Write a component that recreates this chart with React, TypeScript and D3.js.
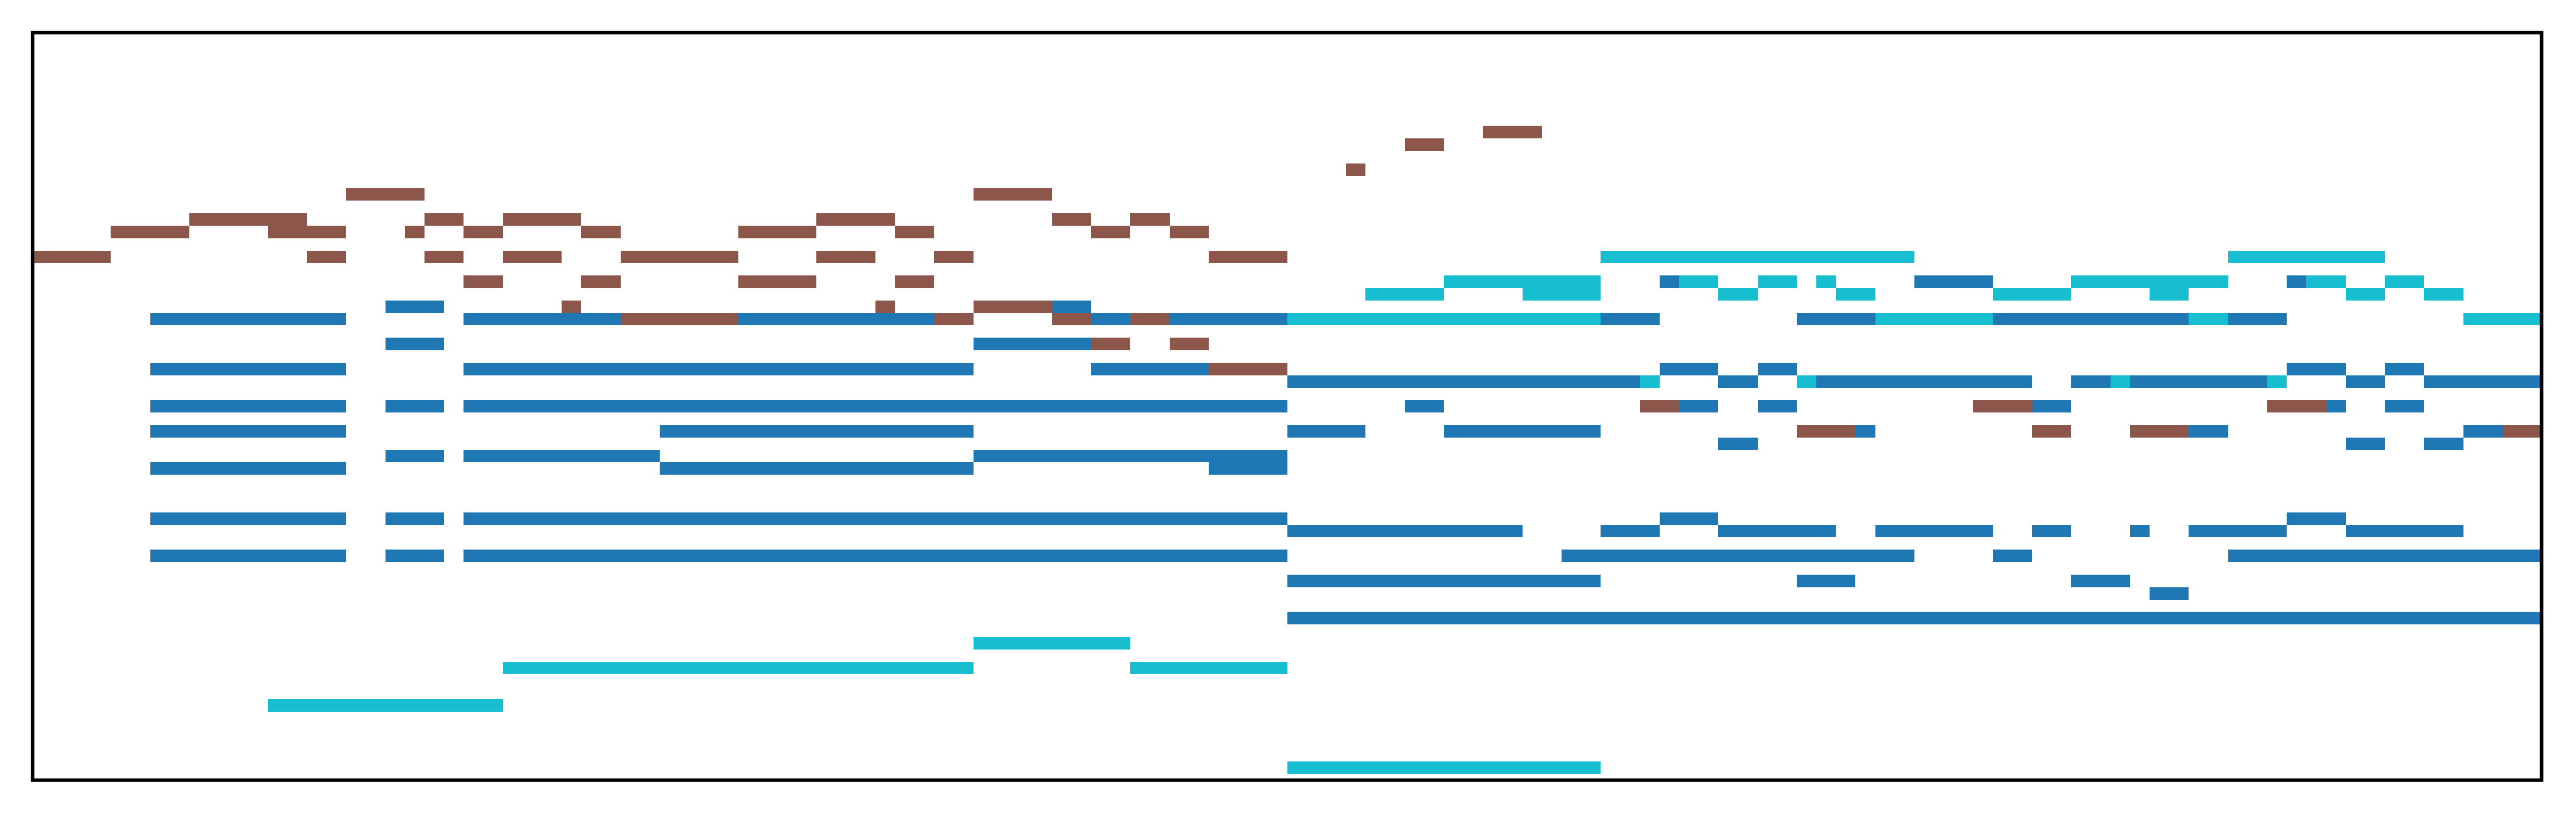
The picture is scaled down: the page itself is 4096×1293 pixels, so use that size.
import React from 'react';
import * as d3 from 'd3';

// piano roll: [start, end, pitch], time in beats
const blueNotes: [number, number, number][] = [
  [41.5, 42, 75], [48, 50, 75], [57.5, 58, 75],
  [9, 10.5, 73], [26, 27, 73],
  [3, 8, 72], [11, 15, 72], [18, 23, 72], [27, 28, 72], [29, 32, 72], [40, 41.5, 72], [45, 47, 72], [50, 55, 72], [56, 57.5, 72],
  [9, 10.5, 70], [24, 27, 70],
  [3, 8, 68], [11, 24, 68], [27, 30, 68], [41.5, 43, 68], [44, 45, 68], [57.5, 59, 68], [60, 61, 68],
  [32, 41, 67], [43, 44, 67], [45.5, 51, 67], [52, 53, 67], [53.5, 57, 67], [59, 60, 67], [61, 64, 67],
  [3, 8, 65], [9, 10.5, 65], [11, 32, 65], [35, 36, 65], [42, 43, 65], [44, 45, 65], [51, 52, 65], [58.5, 59, 65], [60, 61, 65],
  [3, 8, 63], [16, 24, 63], [32, 34, 63], [36, 40, 63], [46.5, 47, 63], [55, 56, 63], [62, 63, 63],
  [43, 44, 62], [59, 60, 62], [61, 62, 62],
  [9, 10.5, 61], [11, 16, 61], [24, 32, 61],
  [3, 8, 60], [16, 24, 60], [30, 32, 60],
  [3, 8, 56], [9, 10.5, 56], [11, 32, 56], [41.5, 43, 56], [57.5, 59, 56],
  [32, 38, 55], [40, 41.5, 55], [43, 46, 55], [47, 50, 55], [51, 52, 55], [53.5, 54, 55], [55, 57.5, 55], [59, 62, 55],
  [3, 8, 53], [9, 10.5, 53], [11, 32, 53], [39, 48, 53], [50, 51, 53], [56, 64, 53],
  [32, 40, 51], [45, 46.5, 51], [52, 53.5, 51],
  [54, 55, 50],
  [32, 64, 48],
];

const brownNotes: [number, number, number][] = [
  [37, 38.5, 87],
  [35, 36, 86],
  [33.5, 34, 84],
  [8, 10, 82], [24, 26, 82],
  [4, 7, 80], [10, 11, 80], [12, 14, 80], [20, 22, 80], [26, 27, 80], [28, 29, 80],
  [2, 4, 79], [6, 8, 79], [9.5, 10, 79], [11, 12, 79], [14, 15, 79], [18, 20, 79], [22, 23, 79], [27, 28, 79], [29, 30, 79],
  [0, 2, 77], [7, 8, 77], [10, 11, 77], [12, 13.5, 77], [15, 18, 77], [20, 21.5, 77], [23, 24, 77], [30, 32, 77],
  [11, 12, 75], [14, 15, 75], [18, 20, 75], [22, 23, 75],
  [13.5, 14, 73], [21.5, 22, 73], [24, 26, 73],
  [15, 18, 72], [23, 24, 72], [26, 27, 72], [28, 29, 72],
  [27, 28, 70], [29, 30, 70],
  [30, 32, 68],
  [41, 42, 65], [49.5, 51, 65], [57, 58.5, 65],
  [45, 46.5, 63], [51, 52, 63], [53.5, 55, 63], [63, 64, 63],
];

const cyanNotes: [number, number, number][] = [
  [40, 48, 77], [56, 60, 77],
  [36, 40, 75], [42, 43, 75], [44, 45, 75], [45.5, 46, 75], [52, 56, 75], [58, 59, 75], [60, 61, 75],
  [34, 36, 74], [38, 40, 74], [43, 44, 74], [46, 47, 74], [50, 52, 74], [54, 55, 74], [59, 60, 74], [61, 62, 74],
  [32, 40, 72], [47, 50, 72], [55, 56, 72], [62, 64, 72],
  [41, 41.5, 67], [45, 45.5, 67], [53, 53.5, 67], [57, 57.5, 67],
  [24, 28, 46],
  [12, 24, 44], [28, 32, 44],
  [6, 12, 41],
  [32, 40, 36],
];

const tracks = [
  { notes: blueNotes, color: '#1f77b4' },
  { notes: brownNotes, color: '#8c564b' },
  { notes: cyanNotes, color: '#17becf' },
];

const App = () => {
  const W = 4096;
  const H = 1293;
  const left = 51.7, right = 4041.4, top = 51.7, bottom = 1240.9;

  const x = d3.scaleLinear().domain([0, 64]).range([left, right]);
  const y = d3.scaleLinear().domain([35, 95]).range([bottom, top]);

  return (
    <svg width={W} height={H} style={{ position: 'absolute', left: 0, top: 0, background: '#fff' }}>
      <rect x={0} y={0} width={W} height={H} fill="#fff" />
      {tracks.map((t, i) => (
        <g key={i} fill={t.color} shapeRendering="crispEdges">
          {t.notes.map((n, j) => (
            <rect
              key={j}
              x={x(n[0])}
              y={y(n[2] + 0.5)}
              width={x(n[1]) - x(n[0])}
              height={y(n[2] - 0.5) - y(n[2] + 0.5)}
            />
          ))}
        </g>
      ))}
      <rect x={left} y={top} width={right - left} height={bottom - top}
        fill="none" stroke="#000" strokeWidth={5.6} />
    </svg>
  );
};

export default App;
